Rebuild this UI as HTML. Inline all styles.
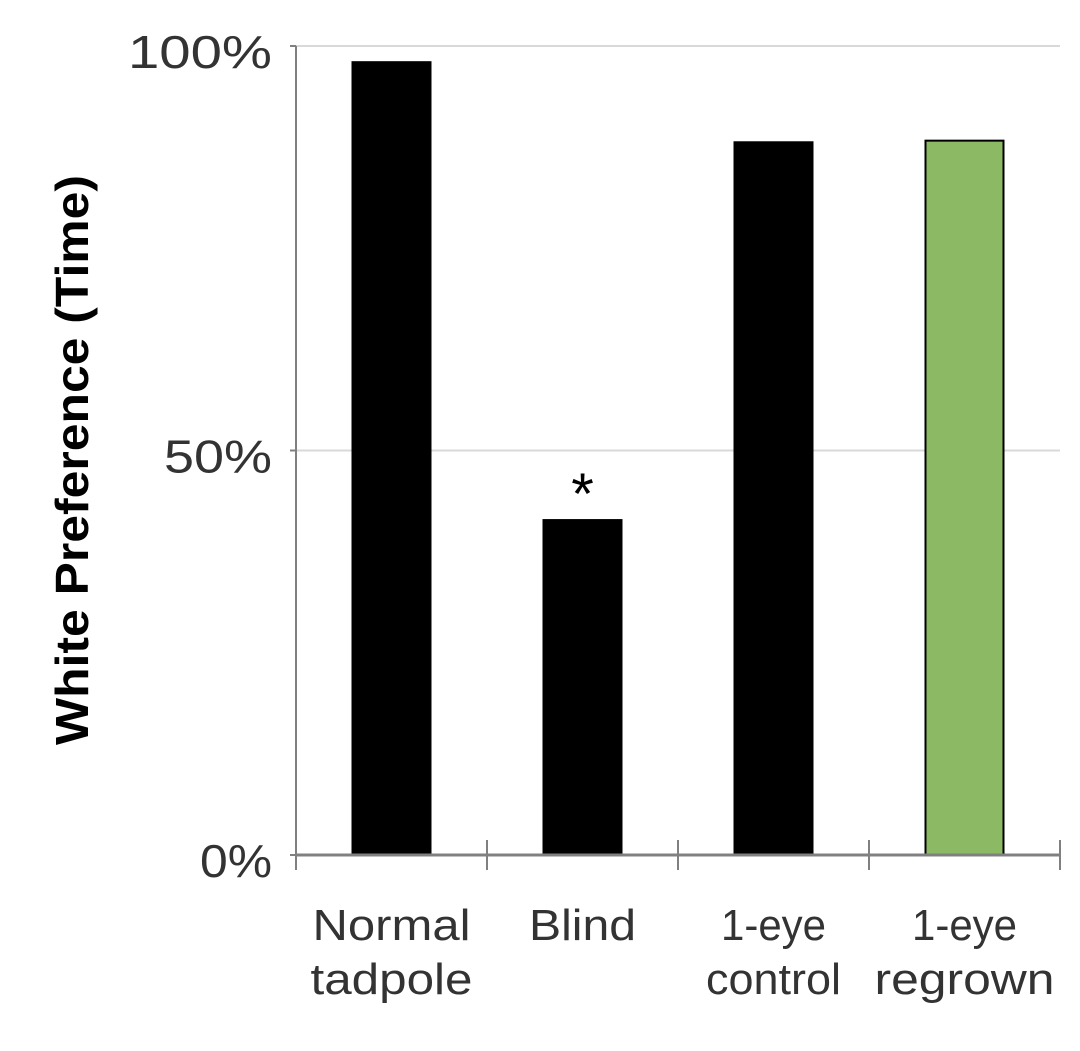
<!DOCTYPE html>
<html><head><meta charset="utf-8"><style>
body{margin:0;background:#fff;}
text{font-family:"Liberation Sans",Arial,sans-serif;}
</style></head><body>
<svg id="chart" width="1080" height="1046" xmlns="http://www.w3.org/2000/svg"></svg>
<script>
const categories = [["Normal","tadpole"],["Blind",""],["1-eye","control"],["1-eye","regrown"]];
const values = [98, 41.4, 88.1, 88.3];
const colors = ["#000000","#000000","#000000","#8cb963"];
const yTicks = [0, 50, 100];
const yTickLabels = ["0%","50%","100%"];
const labelWidths = [[158,162],[107,0],[105,135],[105,180]];

const svg = document.getElementById('chart');
const NS = "http://www.w3.org/2000/svg";
const x0 = 296, x1 = 1060, yBase = 855, yTop = 46;
const y = v => yBase - (yBase - yTop) * v / 100;
const bandW = (x1 - x0) / categories.length;
const xBand = i => x0 + i * bandW;
function mk(tag, attrs){const e=document.createElementNS(NS,tag);for(const k in attrs)e.setAttribute(k,attrs[k]);svg.appendChild(e);return e;}

yTicks.forEach((t,i)=>{
  if(t>0){
    const g=mk('line',{x1:x0,x2:x1,y1:y(t),y2:y(t),stroke:'#d9d9d9','stroke-width':2});
    
    
  }
  const tk=mk('line',{x1:x0-6,x2:x0,y1:y(t),y2:y(t),stroke:'#808080','stroke-width':2});
  
  
  const lbl=yTickLabels[i];
  const l=mk('text',{x:272,y:y(t)+22,'text-anchor':'end','font-size':46,fill:'#333',textLength:lbl.length*36,lengthAdjust:'spacingAndGlyphs'});
  l.textContent=lbl;
  
  
});

values.forEach((v,i)=>{
  const cx = xBand(i) + bandW/2;
  const b=mk('rect',{x:cx-39,y:y(v),width:78,height:yBase-y(v),fill:colors[i],stroke:'#000','stroke-width':2});
  
  
  categories[i].forEach((line,j)=>{
    if(!line) return;
    const t=mk('text',{x:cx,y:940+j*54,'text-anchor':'middle','font-size':44,fill:'#333',textLength:labelWidths[i][j],lengthAdjust:'spacingAndGlyphs'});
    t.textContent=line;
    
    
  });
});

for(let i=0;i<=categories.length;i++){
  const tk=mk('line',{x1:xBand(i),x2:xBand(i),y1:i===0?yBase:840,y2:870,stroke:'#808080','stroke-width':2});
  
  
}
const ax=mk('line',{x1:x0,x2:x1,y1:yBase,y2:yBase,stroke:'#808080','stroke-width':3});


const ay=mk('line',{x1:x0,x2:x0,y1:yTop,y2:870,stroke:'#808080','stroke-width':2});



const star=mk('text',{x:xBand(1)+bandW/2,y:y(values[1])-6,'text-anchor':'middle','font-size':58,fill:'#000'});
star.textContent='*';



const title=mk('text',{x:0,y:0,transform:'translate(88,460) rotate(-90)','text-anchor':'middle','font-size':46,'font-weight':'bold',fill:'#000',textLength:570,lengthAdjust:'spacingAndGlyphs'});
title.textContent='White Preference (Time)';


</script>
</body></html>
